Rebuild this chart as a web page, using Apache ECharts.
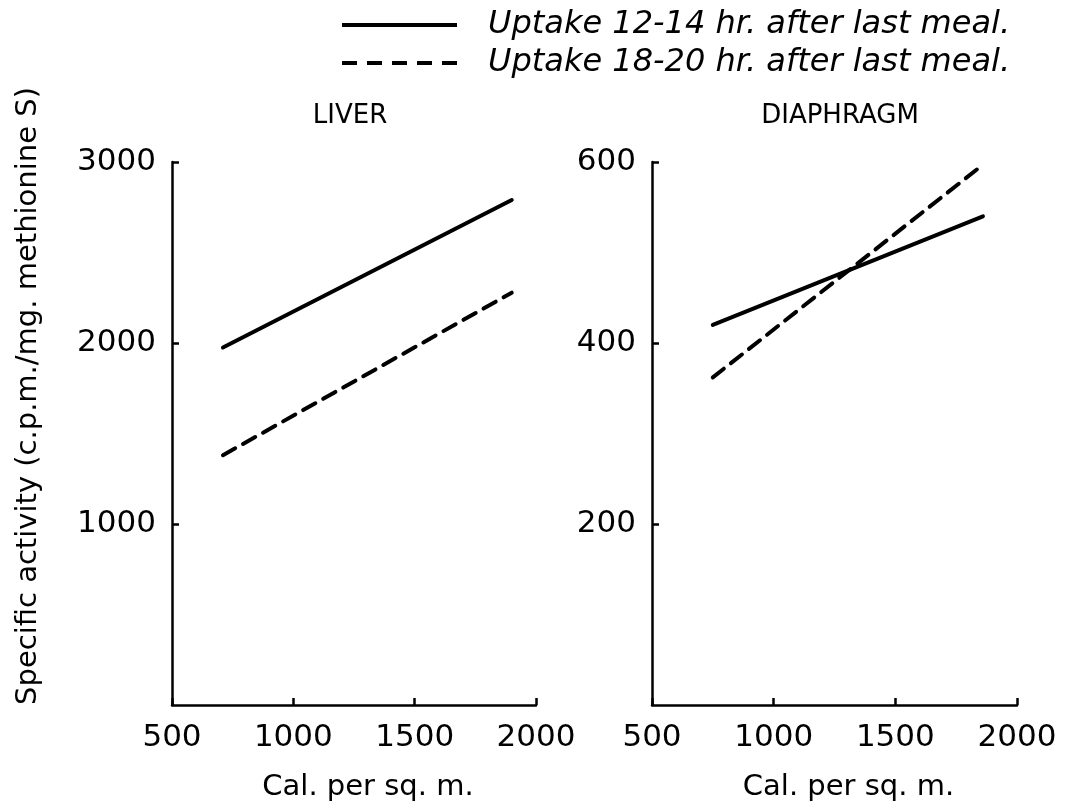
<!DOCTYPE html>
<html>
<head>
<meta charset="utf-8">
<script src="https://cdn.jsdelivr.net/npm/echarts@6/dist/echarts.min.js"></script>
<style>html,body{margin:0;padding:0;background:#fff}#c{width:1070px;height:811px}</style>
</head>
<body>
<div id="c"></div>
<script>
// ---- data ----
const panelTitles = ['LIVER', 'DIAPHRAGM'];
const seriesNames = ['Uptake 12-14 hr. after last meal.', 'Uptake 18-20 hr. after last meal.'];
const xTicks = [500, 1000, 1500, 2000];
const liverYTicks = [0, 1000, 2000, 3000];
const diaphragmYTicks = [0, 200, 400, 600];
const liverSolid = [[710, 1975], [1900, 2790]];
const liverDashed = [[710, 1380], [1900, 2278]];
const diaphragmSolid = [[750, 420], [1860, 540]];
const diaphragmDashed = [[750, 362], [1860, 597]];
const xAxisName = 'Cal. per sq. m.';
const yAxisName = 'Specific activity (c.p.m./mg. methionine S)';

const FONT = 'DejaVu Sans';
const chart = echarts.init(document.getElementById('c'), null, {renderer: 'canvas'});

function xAxisCfg(gi) {
  return {
    type: 'value', gridIndex: gi, min: xTicks[0], max: xTicks[xTicks.length - 1], interval: 500,
    axisLine: {show: true, lineStyle: {color: '#000', width: 2.5}},
    axisTick: {show: true, inside: true, length: 7, lineStyle: {color: '#000', width: 2.5}},
    axisLabel: {color: '#000', fontSize: 31, fontFamily: FONT, margin: 17, formatter: v => String(v)},
    splitLine: {show: false},
    name: xAxisName, nameLocation: 'middle', nameGap: 68,
    nameTextStyle: {color: '#000', fontSize: 29, fontFamily: FONT, padding: [0, 0, 0, 28]}
  };
}
function yAxisCfg(gi, ticks) {
  return {
    type: 'value', gridIndex: gi, min: ticks[0], max: ticks[ticks.length - 1], interval: ticks[1] - ticks[0],
    axisLine: {show: true, lineStyle: {color: '#000', width: 2.5}},
    axisTick: {show: true, inside: true, length: 7, lineStyle: {color: '#000', width: 2.5}},
    axisLabel: {color: '#000', fontSize: 31, fontFamily: FONT, margin: 16, showMinLabel: false, formatter: v => String(v)},
    splitLine: {show: false}
  };
}
function lineSeries(name, data, gi, dashed) {
  return {
    type: 'line', name: name, data: data, xAxisIndex: gi, yAxisIndex: gi,
    symbol: 'none', silent: true, animation: false,
    lineStyle: {color: '#000', width: 4, type: dashed ? [14, 9] : 'solid', cap: 'round'},
    itemStyle: {color: '#000'}
  };
}

chart.setOption({
  animation: false,
  backgroundColor: '#fff',
  title: [
    {text: panelTitles[0], left: 345, top: 98, textAlign: 'center',
     textStyle: {fontFamily: FONT, fontSize: 26, fontWeight: 'normal', color: '#000'}},
    {text: panelTitles[1], left: 835, top: 98, textAlign: 'center',
     textStyle: {fontFamily: FONT, fontSize: 26, fontWeight: 'normal', color: '#000'}}
  ],
  legend: {
    orient: 'vertical', left: 337, top: 2, itemWidth: 115, itemHeight: 4, itemGap: 2,
    data: [
      {name: seriesNames[0], icon: 'path://M0,0H115V4H0Z'},
      {name: seriesNames[1], icon: 'path://M0,0H15V4H0ZM25,0H40V4H25ZM50,0H65V4H50ZM75,0H90V4H75ZM100,0H115V4H100Z'}
    ],
    selectedMode: false,
    itemStyle: {color: '#000'},
    textStyle: {fontFamily: FONT, fontStyle: 'italic', fontSize: 32, color: '#000', padding: [0, 0, 0, 26], lineHeight: 36}
  },
  grid: [
    {left: 172, right: 534, top: 162, bottom: 106},
    {left: 652, right: 53, top: 162, bottom: 106}
  ],
  xAxis: [xAxisCfg(0), xAxisCfg(1)],
  yAxis: [yAxisCfg(0, liverYTicks), yAxisCfg(1, diaphragmYTicks)],
  graphic: [{
    type: 'text', x: 28, y: 396, rotation: Math.PI / 2,
    style: {text: yAxisName, fontFamily: FONT, fontSize: 29, fill: '#000',
            textAlign: 'center', textVerticalAlign: 'middle'}
  }],
  series: [
    lineSeries(seriesNames[0], liverSolid, 0, false),
    lineSeries(seriesNames[1], liverDashed, 0, true),
    lineSeries(seriesNames[0], diaphragmSolid, 1, false),
    lineSeries(seriesNames[1], diaphragmDashed, 1, true)
  ]
});
</script>
</body>
</html>
